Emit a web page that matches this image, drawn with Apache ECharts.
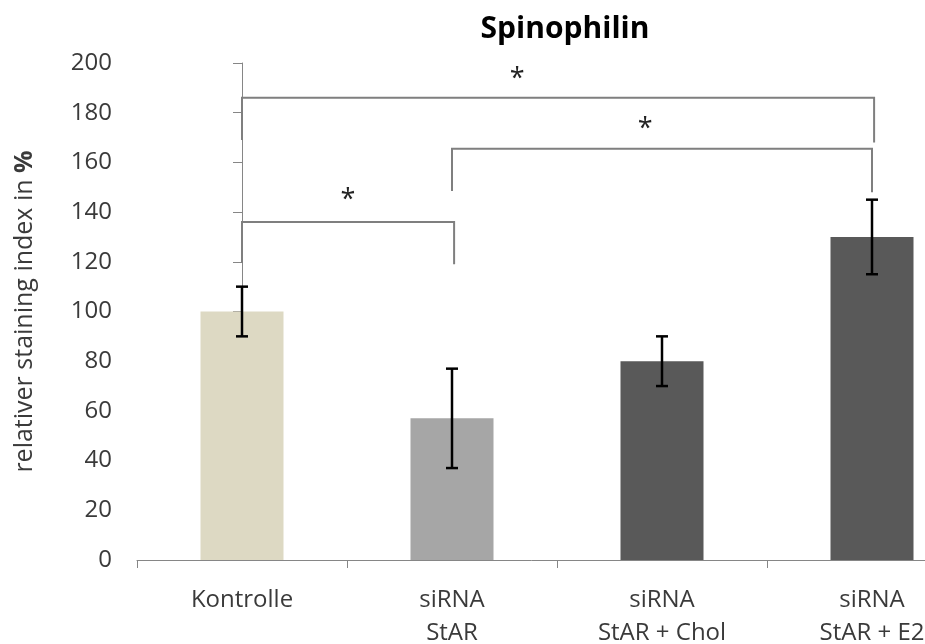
<!DOCTYPE html>
<html>
<head>
<meta charset="utf-8">
<script src="https://cdn.jsdelivr.net/npm/echarts@6/dist/echarts.min.js"></script>
<style>html,body{margin:0;padding:0;background:#fff;}#c{width:925px;height:644px;}</style>
</head>
<body>
<div id="c"></div>
<script>
const categories = ['Kontrolle', 'siRNA\nStAR', 'siRNA\nStAR + Chol', 'siRNA\nStAR + E2'];
const values = [100, 57, 80, 130];
const errors = [10, 20, 10, 15];
const barColors = ['#ddd9c3', '#a6a6a6', '#595959', '#595959'];
const yTicks = [0, 20, 40, 60, 80, 100, 120, 140, 160, 180, 200];
// brackets: [xStart, xEnd, yTop, yBottomLeft, yBottomRight]
const brackets = [
  [0, 3.01, 186, 169, 168],
  [1, 3.0, 165.5, 148.5, 148],
  [0, 1.01, 136, 119.5, 119]
];
// asterisks: [x, y]
const stars = [[1.31, 195.3], [1.92, 175.2], [0.505, 146.7]];

const FONT = '"Open Sans", sans-serif';
const chart = echarts.init(document.getElementById('c'));
chart.setOption({
  animation: false,
  backgroundColor: '#fff',
  title: {
    text: 'Spinophilin',
    left: 560, top: 9, textAlign: 'center',
    textStyle: {fontFamily: FONT, fontWeight: 'bold', fontSize: 30, color: '#000'}
  },
  grid: {left: 137, width: 840, top: 63, height: 497, containLabel: false, outerBoundsMode: 'none'},
  xAxis: [{
    type: 'category', data: categories,
    axisLine: {lineStyle: {color: '#868686', width: 1}},
    axisTick: {show: true, length: 8, lineStyle: {color: '#868686'}},
    axisLabel: {interval: 0, margin: 24, fontFamily: FONT, fontSize: 24, color: '#3a3a3a', lineHeight: 33, verticalAlign: 'top'}
  }, {
    type: 'value', min: -0.5, max: 3.5, show: false
  }],
  yAxis: {
    type: 'value', min: yTicks[0], max: yTicks[yTicks.length - 1], interval: 20,
    name: '{a|relativer staining index in }{b|%}',
    nameLocation: 'middle', nameGap: 100, nameRotate: 90,
    nameTextStyle: {
      rich: {
        a: {fontFamily: FONT, fontSize: 25, color: '#3a3a3a'},
        b: {fontFamily: FONT, fontSize: 25, color: '#3a3a3a', fontWeight: 'bold'}
      }
    },
    axisLine: {show: true, lineStyle: {color: '#868686', width: 1}},
    axisTick: {show: true, length: 9, lineStyle: {color: '#868686'}},
    splitLine: {show: false},
    axisLabel: {margin: 25, fontFamily: FONT, fontSize: 24, color: '#3a3a3a'}
  },
  series: [{
    type: 'bar', barWidth: 83,
    data: values.map((v, i) => ({value: v, itemStyle: {color: barColors[i]}}))
  }, {
    type: 'custom',
    data: values.map((v, i) => [i, v - errors[i], v + errors[i]]),
    renderItem: function (params, api) {
      const i = api.value(0);
      const lo = api.coord([i, api.value(1)]);
      const hi = api.coord([i, api.value(2)]);
      const cap = 6;
      const st = {stroke: '#000', lineWidth: 2.5};
      return {type: 'group', children: [
        {type: 'line', shape: {x1: lo[0], y1: lo[1], x2: hi[0], y2: hi[1]}, style: st},
        {type: 'line', shape: {x1: hi[0] - cap, y1: hi[1], x2: hi[0] + cap, y2: hi[1]}, style: st},
        {type: 'line', shape: {x1: lo[0] - cap, y1: lo[1], x2: lo[0] + cap, y2: lo[1]}, style: st}
      ]};
    },
    z: 5
  }, {
    type: 'custom', xAxisIndex: 1, yAxisIndex: 0,
    data: brackets,
    renderItem: function (params, api) {
      const a = api.coord([api.value(0), api.value(3)]);
      const b = api.coord([api.value(0), api.value(2)]);
      const c = api.coord([api.value(1), api.value(2)]);
      const d = api.coord([api.value(1), api.value(4)]);
      return {type: 'polyline', shape: {points: [a, b, c, d]},
        style: {stroke: '#7f7f7f', lineWidth: 2, fill: null}};
    },
    z: 4
  }, {
    type: 'custom', xAxisIndex: 1, yAxisIndex: 0,
    data: stars,
    renderItem: function (params, api) {
      const p = api.coord([api.value(0), api.value(1)]);
      return {type: 'text', x: p[0], y: p[1] + 5,
        style: {text: '*', fontFamily: FONT, fontSize: 27, fill: '#222', align: 'center', verticalAlign: 'middle'}};
    },
    z: 6
  }]
});
</script>
</body>
</html>
